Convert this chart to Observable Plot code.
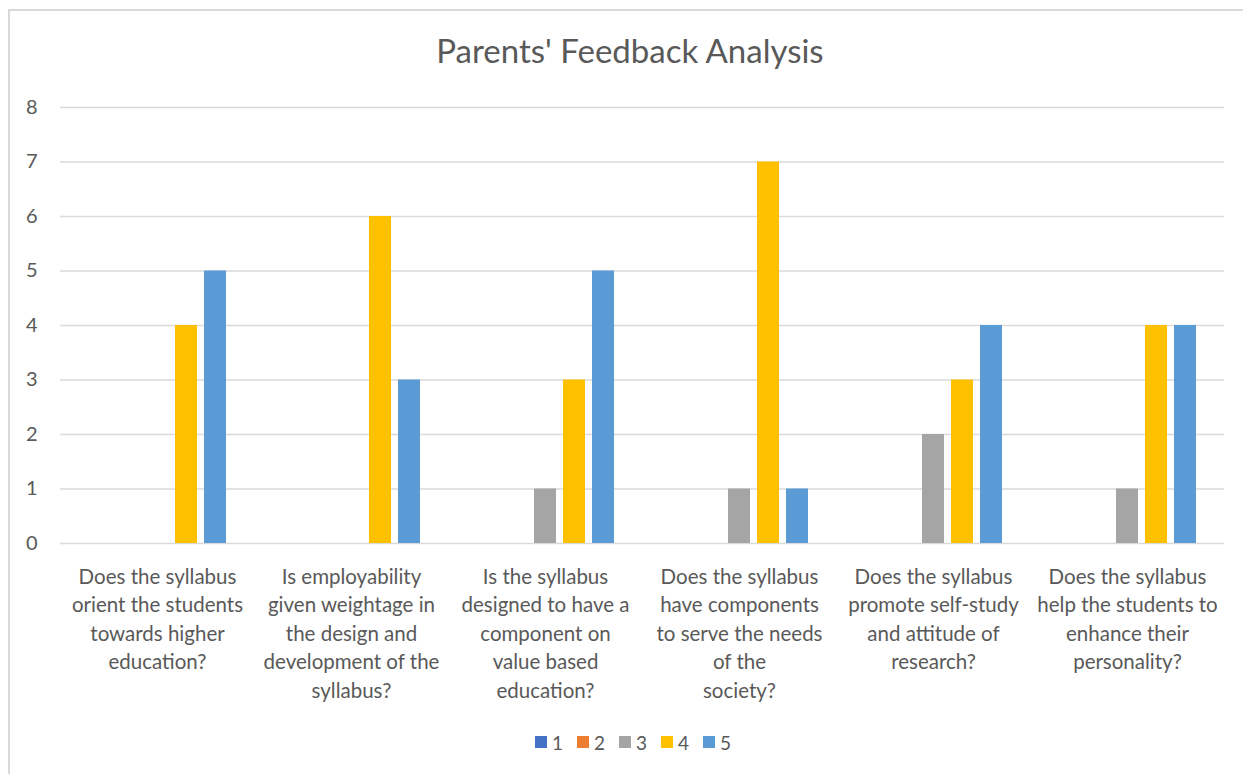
<!DOCTYPE html>
<html>
<head>
<meta charset="utf-8">
<script src="https://cdn.jsdelivr.net/npm/d3@7"></script>
<script src="https://cdn.jsdelivr.net/npm/@observablehq/plot@0.6"></script>
<style>
  html, body { margin: 0; padding: 0; background: #fff; overflow: hidden; }
  body { width: 1243px; height: 774px; position: relative; font-family: Lato, "Open Sans", sans-serif; }
  #frame { position: absolute; left: 8px; top: 9px; width: 1300px; height: 820px; border: 2px solid #d9d9d9; box-sizing: border-box; }
  #title { position: absolute; left: 0; width: 1260px; top: 30px; text-align: center; font-size: 33px; color: #595959; }
  #chart { position: absolute; left: 0; top: 0; }
  #legend { position: absolute; left: 0; width: 1266px; top: 729px; text-align: center; font-size: 19px; color: #595959; }
  .item { display: inline-flex; align-items: center; margin: 0 7px; }
  .sw { width: 12px; height: 12px; display: inline-block; margin-right: 5px; }
</style>
</head>
<body>
<div id="frame"></div>
<div id="title">Parents' Feedback Analysis</div>
<div id="chart"></div>
<div id="legend"></div>
<script>
const categories = [
  "Does the syllabus\norient the students\ntowards higher\neducation?",
  "Is employability\ngiven weightage in\nthe design and\ndevelopment of the\nsyllabus?",
  "Is the syllabus\ndesigned to have a\ncomponent on\nvalue based\neducation?",
  "Does the syllabus\nhave components\nto serve the needs\nof the\nsociety?",
  "Does the syllabus\npromote self-study\nand attitude of\nresearch?",
  "Does the syllabus\nhelp the students to\nenhance their\npersonality?"
];
const seriesNames = ["1", "2", "3", "4", "5"];
const seriesColors = ["#4472C4", "#ED7D31", "#A5A5A5", "#FFC000", "#5B9BD5"];
const s1 = [0, 0, 0, 0, 0, 0];
const s2 = [0, 0, 0, 0, 0, 0];
const s3 = [0, 0, 1, 1, 2, 1];
const s4 = [4, 6, 3, 7, 3, 4];
const s5 = [5, 3, 5, 1, 4, 4];
const yTicks = [0, 1, 2, 3, 4, 5, 6, 7, 8];

const seriesValues = [s1, s2, s3, s4, s5];
const rows = [];
categories.forEach((c, i) => {
  seriesNames.forEach((s, j) => {
    rows.push({category: c, series: s, value: seriesValues[j][i]});
  });
});

const plot = Plot.plot({
  width: 1243,
  height: 720,
  marginLeft: 60,
  marginRight: 19,
  marginTop: 107,
  marginBottom: 177,
  style: { fontFamily: "Lato, 'Open Sans', sans-serif", color: "#595959", background: "transparent" },
  fx: { domain: categories, padding: 0, label: null },
  x: { domain: seriesNames, paddingInner: 0.233, paddingOuter: 0.85, axis: null },
  y: { domain: [0, 8], label: null },
  color: { domain: seriesNames, range: seriesColors },
  marks: [
    Plot.gridY(yTicks, { stroke: "#d9d9d9", strokeOpacity: 1, strokeWidth: 1.5 }),
    Plot.axisY(yTicks, { tickSize: 0, tickPadding: 23, tickFormat: "d", fontSize: 20, fill: "#595959", label: null }),
    Plot.barY(rows, { fx: "category", x: "series", y: "value", fill: "series" }),
    Plot.axisFx({ tickSize: 0, tickPadding: 20, fontSize: 20.5, lineHeight: 1.39, fill: "#595959", label: null, anchor: "bottom" })
  ]
});
document.getElementById("chart").appendChild(plot);

const legend = document.getElementById("legend");
seriesNames.forEach((s, i) => {
  const it = document.createElement("span");
  it.className = "item";
  const sw = document.createElement("span");
  sw.className = "sw";
  sw.style.background = seriesColors[i];
  it.appendChild(sw);
  it.appendChild(document.createTextNode(s));
  legend.appendChild(it);
});
</script>
</body>
</html>
